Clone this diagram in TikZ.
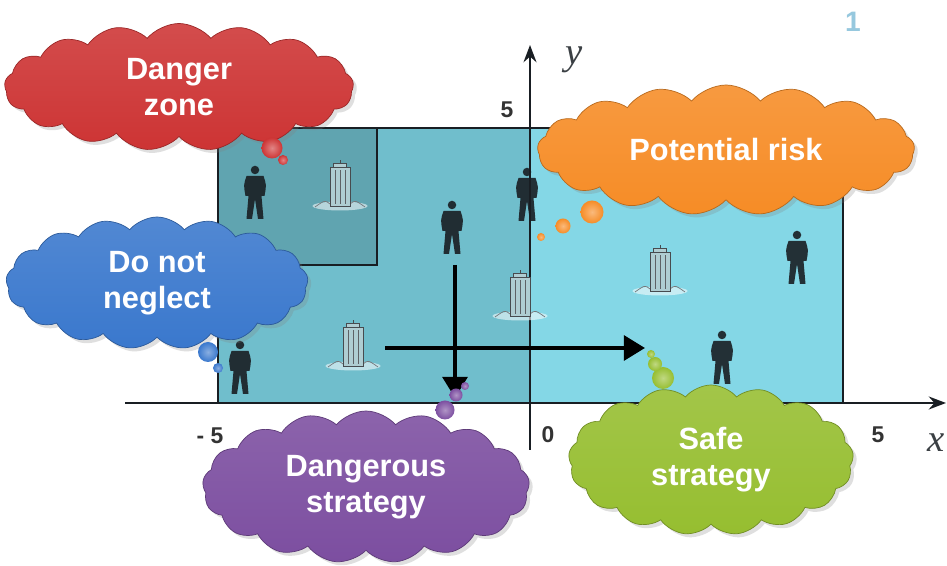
\documentclass[tikz,border=0pt]{standalone}
\usepackage{fontspec}
\setmainfont{Liberation Sans}
\newfontfamily\axisfont{Liberation Serif}
\usepackage{tikz}
\usetikzlibrary{shapes.symbols,arrows.meta,shadows}
\definecolor{zoneleft}{RGB}{112,190,204}
\definecolor{zoneright}{RGB}{132,215,230}
\definecolor{zoneinner}{RGB}{96,164,176}
\definecolor{axisdark}{RGB}{25,30,35}
\definecolor{towergray}{RGB}{175,205,210}
\definecolor{cloudred}{RGB}{205,52,52}
\definecolor{cloudblue}{RGB}{58,120,205}
\definecolor{cloudorange}{RGB}{246,140,38}
\definecolor{cloudpurple}{RGB}{124,78,160}
\definecolor{cloudgreen}{RGB}{150,190,48}
\definecolor{pagenum}{RGB}{150,200,222}

\tikzset{
  person/.pic={
    \fill[axisdark, opacity=.9] (0,1.0) circle (0.085);
    \fill[axisdark, opacity=.9] (-0.17,0.88) .. controls (-0.23,0.7) .. (-0.19,0.48) -- (-0.13,0.48)
      -- (-0.17,0.02) -- (-0.06,0.02) -- (0,0.42) -- (0.06,0.02) -- (0.17,0.02) -- (0.13,0.48)
      -- (0.19,0.48) .. controls (0.23,0.7) .. (0.17,0.88) -- cycle;
  },
  tower/.pic={
    \fill[white, opacity=.55] (0,0.08) ellipse (0.55 and 0.09);
    \draw[axisdark!60, thin] (-0.5,0.06) .. controls (-0.3,0.2) .. (-0.2,0.12);
    \draw[axisdark!60, thin] (0.5,0.06) .. controls (0.3,0.2) .. (0.2,0.12);
    \draw[axisdark!80, fill=towergray] (-0.2,0.08) rectangle (0.2,0.85);
    \foreach \i in {-0.1,0,0.1}
      \draw[axisdark!70] (\i,0.12) -- (\i,0.8);
    \draw[axisdark!80, fill=towergray] (-0.13,0.85) rectangle (0.13,0.93);
    \draw[axisdark!80] (0,0.93) -- (0,1.0);
  }
}

\begin{document}
\begin{tikzpicture}[>=Stealth,
  bubble/.style={cloud, cloud puffs=17, cloud puff arc=100, aspect=2.6, inner sep=0pt,
    align=center, text=white, font=\bfseries\fontsize{17.5}{20.5}\selectfont,
    draw=#1!75!black, top color=#1!88!white, bottom color=#1,
    drop shadow={opacity=0.25, shadow xshift=2pt, shadow yshift=-2pt}},
  ball/.style={circle, inner sep=0pt, inner color=#1!60!white, outer color=#1},
  tick/.style={font=\bfseries\fontsize{13}{13}\selectfont, text=black!80},
  varname/.style={font=\axisfont\itshape\fontsize{22}{22}\selectfont, text=axisdark!85},
  frame/.style={draw=axisdark, line width=1.1pt},
  axis/.style={draw=axisdark, line width=1.5pt, ->},
  move/.style={draw=black, line width=2.4pt, -{Triangle[length=12pt,width=14pt]}}
]
  \useasboundingbox (0,0) rectangle (18.94,11.32);
  \fill[white] (0,0) rectangle (18.94,11.32);

  % Zones
  \fill[zoneleft] (4.36,3.26) rectangle (10.6,8.76);
  \fill[zoneright] (10.6,3.26) rectangle (16.86,8.76);
  \fill[zoneinner] (4.36,6.02) rectangle (7.54,8.76);
  \draw[frame] (4.36,3.26) rectangle (16.86,8.76);
  \draw[frame] (4.36,6.02) -| (7.54,8.76);

  % Axes
  \coordinate (xmin) at (2.5,3.26);
  \coordinate (xmax) at (18.92,3.26);
  \coordinate (ymin) at (10.6,2.32);
  \coordinate (ymax) at (10.6,10.42);
  \draw[axis] (xmin) -- (xmax);
  \draw[axis] (ymin) -- (ymax);

  \node[tick] (ytop) at (10.14,9.12) {5};
  \node[tick] (xleft) at (4.2,2.6) {- 5};
  \node[tick] (origin) at (10.96,2.62) {0};
  \node[tick] (xright) at (17.56,2.62) {5};
  \node[varname] (ylabel) at (11.48,10.12) {y};
  \node[varname] (xlabel) at (18.72,2.46) {x};

  % People and towers
  \pic at (5.1,6.92) {person};
  \pic at (9.04,6.22) {person};
  \pic at (10.54,6.88) {person};
  \pic at (15.94,5.62) {person};
  \pic at (14.44,3.62) {person};
  \pic at (4.8,3.42) {person};
  \pic at (6.8,7.12) {tower};
  \pic at (7.06,3.92) {tower};
  \pic at (10.4,4.92) {tower};
  \pic at (13.2,5.42) {tower};

  % Strategies
  \coordinate (down-start) at (9.1,6.02);
  \coordinate (down-end) at (9.1,3.36);
  \coordinate (right-start) at (7.7,4.36);
  \coordinate (right-end) at (12.9,4.36);
  \draw[move] (down-start) -- (down-end);
  \draw[move] (right-start) -- (right-end);

  % Clouds
  \node[bubble=cloudred, minimum width=6.98cm, minimum height=2.54cm] (danger) at (3.58,9.58) {Danger\\zone};
  \node[bubble=cloudblue, minimum width=6.04cm, minimum height=2.64cm] (neglect) at (3.14,5.66) {Do not\\neglect};
  \node[bubble=cloudorange, minimum width=7.54cm, minimum height=2.6cm] (risk) at (14.52,8.32) {Potential risk};
  \node[bubble=cloudpurple, minimum width=6.54cm, minimum height=3.04cm, aspect=2.1] (dangerous) at (7.32,1.58) {Dangerous\\strategy};
  \node[bubble=cloudgreen, minimum width=5.7cm, minimum height=3.0cm, aspect=1.9] (safe) at (14.22,2.12) {Safe\\strategy};

  % Thought bubbles
  \node[ball=cloudred, minimum size=0.42cm] (danger-b1) at (5.44,8.36) {};
  \node[ball=cloudred, minimum size=0.2cm] (danger-b2) at (5.66,8.12) {};
  \node[ball=cloudblue, minimum size=0.4cm] (neglect-b1) at (4.16,4.28) {};
  \node[ball=cloudblue, minimum size=0.2cm] (neglect-b2) at (4.36,3.96) {};
  \node[ball=cloudorange, minimum size=0.46cm] (risk-b1) at (11.84,7.08) {};
  \node[ball=cloudorange, minimum size=0.3cm] (risk-b2) at (11.26,6.8) {};
  \node[ball=cloudorange, minimum size=0.16cm] (risk-b3) at (10.82,6.58) {};
  \node[ball=cloudpurple, minimum size=0.38cm] (dangerous-b1) at (8.9,3.12) {};
  \node[ball=cloudpurple, minimum size=0.26cm] (dangerous-b2) at (9.12,3.42) {};
  \node[ball=cloudpurple, minimum size=0.16cm] (dangerous-b3) at (9.3,3.6) {};
  \node[ball=cloudgreen, minimum size=0.44cm] (safe-b1) at (13.26,3.76) {};
  \node[ball=cloudgreen, minimum size=0.28cm] (safe-b2) at (13.1,4.04) {};
  \node[ball=cloudgreen, minimum size=0.16cm] (safe-b3) at (13.02,4.24) {};

  % Slide number
  \node[text=pagenum, font=\bfseries\fontsize{16}{16}\selectfont] (pagenr) at (17.06,10.88) {1};

\end{tikzpicture}
\end{document}
